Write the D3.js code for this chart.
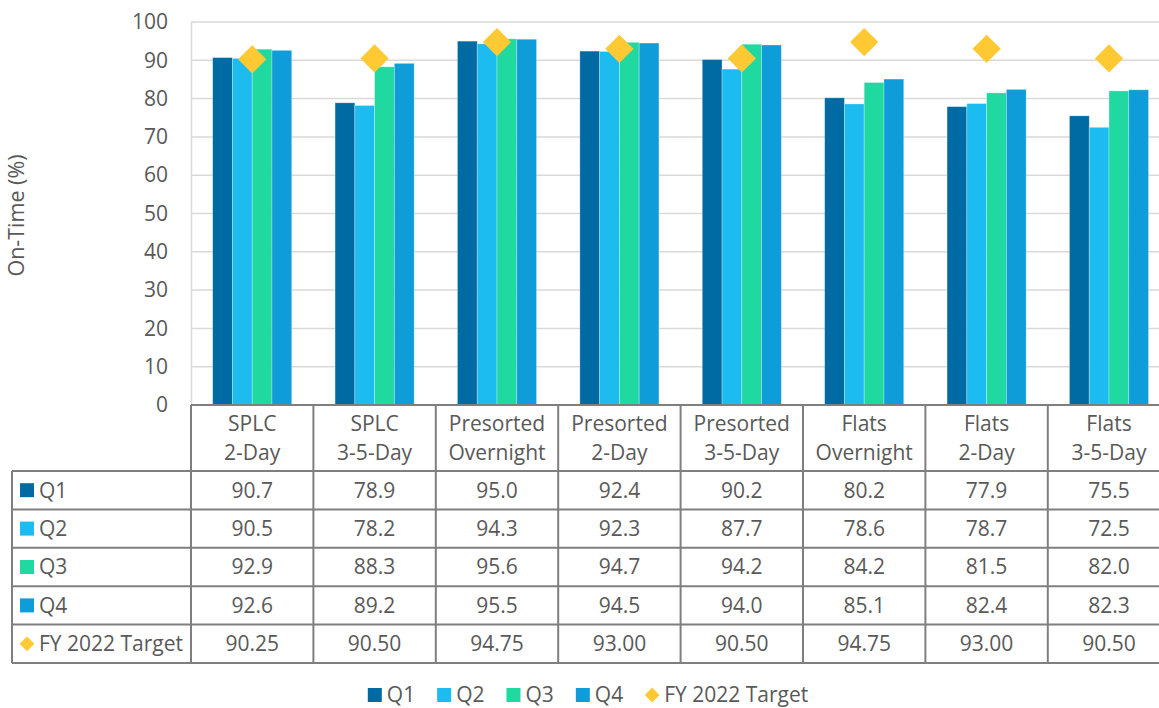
<!DOCTYPE html>
<html><head><meta charset="utf-8">
<script src="https://cdn.jsdelivr.net/npm/d3@7"></script>
<style>
html,body{margin:0;padding:0;background:#fff;}
svg{display:block;font-family:"Open Sans",sans-serif;}
</style></head>
<body><svg id="c" width="1159" height="708"></svg>
<script>
const categories = [["SPLC","2-Day"],["SPLC","3-5-Day"],["Presorted","Overnight"],["Presorted","2-Day"],["Presorted","3-5-Day"],["Flats","Overnight"],["Flats","2-Day"],["Flats","3-5-Day"]];
const seriesNames = ["Q1","Q2","Q3","Q4"];
const q1 = [90.7,78.9,95.0,92.4,90.2,80.2,77.9,75.5];
const q2 = [90.5,78.2,94.3,92.3,87.7,78.6,78.7,72.5];
const q3 = [92.9,88.3,95.6,94.7,94.2,84.2,81.5,82.0];
const q4 = [92.6,89.2,95.5,94.5,94.0,85.1,82.4,82.3];
const target = [90.25,90.50,94.75,93.00,90.50,94.75,93.00,90.50];
const targetName = "FY 2022 Target";
const yTicks = [0,10,20,30,40,50,60,70,80,90,100];
const yLabel = "On-Time (%)";

const colors = ["#006AA3","#1CBBF0","#20D9A0","#0E9DD9"];
const targetColor = "#FFC933";
const textColor = "#595959";
const borderColor = "#7F7F7F";
const gridColor = "#D9D9D9";
const fontSize = 21;

const series = [q1,q2,q3,q4];
const svg = d3.select("#c");
const plotLeft = 191, plotTop = 22, plotBottom = 405, step = 122.4;
const idx = d3.range(categories.length);
const x = d3.scaleBand().domain(idx).range([plotLeft, plotLeft + step*categories.length]).padding(0);
const xi = d3.scaleBand().domain(seriesNames).range([0.177*step, 0.823*step]).padding(0);
const y = d3.scaleLinear().domain([0,100]).range([plotBottom, plotTop]);

// gridlines
svg.append("g").selectAll("line").data(yTicks.filter(d=>d>0)).join("line")
  .attr("x1", plotLeft).attr("x2", x.range()[1]).attr("y1", d=>y(d)).attr("y2", d=>y(d))
  .attr("stroke", gridColor).attr("stroke-width", 1.5);

// y axis
const yAxis = d3.axisLeft(y).tickValues(yTicks).tickSize(0).tickPadding(23);
const ya = svg.append("g").attr("transform", `translate(${plotLeft},0)`).call(yAxis);
ya.select(".domain").attr("stroke", gridColor).attr("stroke-width", 1.5);
ya.selectAll("text").attr("fill", textColor).style("font-size", fontSize+"px").style("font-family","Open Sans");

svg.append("text").attr("transform", `translate(24,${(plotTop+plotBottom)/2 + 2}) rotate(-90)`)
  .attr("text-anchor","middle").attr("fill", textColor).style("font-size", "21.5px").text(yLabel);

// bars
series.forEach((vals, si) => {
  svg.append("g").selectAll("rect").data(vals).join("rect")
    .attr("x", (d,i)=>x(i)+xi(seriesNames[si]))
    .attr("width", xi.bandwidth())
    .attr("y", d=>y(d)).attr("height", d=>y(0)-y(d))
    .attr("fill", colors[si])
    .attr("stroke", "#ffffff").attr("stroke-opacity", 0.35).attr("stroke-width", 0.8);
});

// target diamonds
const diamond = d3.symbol(d3.symbolSquare, 400)();
svg.append("g").selectAll("path").data(target).join("path")
  .attr("d", diamond)
  .attr("transform", (d,i)=>`translate(${x(i)+step/2},${y(d)}) rotate(45)`)
  .attr("fill", targetColor);

// data table
const rowH = 38.4, headBottom = 471;
const nRows = 5;
const tableBottom = headBottom + rowH*nRows;
const tg = svg.append("g");
idx.concat([categories.length]).forEach(i=>{
  const xx = i < categories.length ? x(i) : x.range()[1];
  tg.append("line").attr("x1", xx).attr("x2", xx).attr("y1", plotBottom).attr("y2", tableBottom)
    .attr("stroke", borderColor).attr("stroke-width", 2);
});
tg.append("line").attr("x1", 12).attr("x2", 12).attr("y1", headBottom).attr("y2", tableBottom)
  .attr("stroke", borderColor).attr("stroke-width", 2);
tg.append("line").attr("x1", plotLeft).attr("x2", x.range()[1]).attr("y1", plotBottom).attr("y2", plotBottom)
  .attr("stroke", borderColor).attr("stroke-width", 2);
d3.range(nRows+1).forEach(r=>{
  const yy = headBottom + r*rowH;
  tg.append("line").attr("x1", 12).attr("x2", x.range()[1]).attr("y1", yy).attr("y2", yy)
    .attr("stroke", borderColor).attr("stroke-width", 2);
});
categories.forEach((c,i)=>{
  c.forEach((line,li)=>{
    tg.append("text").attr("x", x(i)+step/2).attr("y", 424 + li*29).attr("dy","0.35em")
      .attr("text-anchor","middle").attr("fill", textColor).style("font-size", fontSize+"px").text(line);
  });
});
const rowData = series.map((s,si)=>({name:seriesNames[si], vals:s.map(d3.format(".1f")), color:colors[si], type:"sq"}))
  .concat([{name:targetName, vals:target.map(d3.format(".2f")), color:targetColor, type:"dia"}]);
rowData.forEach((r,ri)=>{
  const cy = headBottom + ri*rowH + rowH/2;
  if (r.type==="sq") {
    tg.append("rect").attr("x", 20).attr("y", cy-7).attr("width", 14).attr("height", 14).attr("fill", r.color);
  } else {
    tg.append("path").attr("d", d3.symbol(d3.symbolSquare, 110)()).attr("transform", `translate(27,${cy}) rotate(45)`).attr("fill", r.color);
  }
  tg.append("text").attr("x", 39).attr("y", cy).attr("dy","0.35em").attr("fill", textColor)
    .style("font-size", fontSize+"px").text(r.name);
  r.vals.forEach((v,i)=>{
    tg.append("text").attr("x", x(i)+step/2).attr("y", cy).attr("dy","0.35em").attr("text-anchor","middle")
      .attr("fill", textColor).style("font-size", fontSize+"px").text(v);
  });
});

// legend
const lg = svg.append("g");
const legendItems = seriesNames.map((n,i)=>({name:n,color:colors[i],type:"sq"})).concat([{name:targetName,color:targetColor,type:"dia"}]);
let cx = 0; const ly = 695;
legendItems.forEach(it=>{
  const g = lg.append("g");
  if (it.type==="sq") g.append("rect").attr("x",0).attr("y",ly-7).attr("width",14).attr("height",14).attr("fill",it.color);
  else g.append("path").attr("d", d3.symbol(d3.symbolSquare, 110)()).attr("transform",`translate(7,${ly}) rotate(45)`).attr("fill",it.color);
  const t = g.append("text").attr("x",19).attr("y",ly).attr("dy","0.35em").attr("fill",textColor).style("font-size",fontSize+"px").text(it.name);
  const w = 19 + t.node().getComputedTextLength();
  g.attr("transform",`translate(${cx},0)`);
  cx += w + 22;
});
const totalW = cx - 22;
lg.attr("transform",`translate(${588 - totalW/2},0)`);
</script></body></html>
